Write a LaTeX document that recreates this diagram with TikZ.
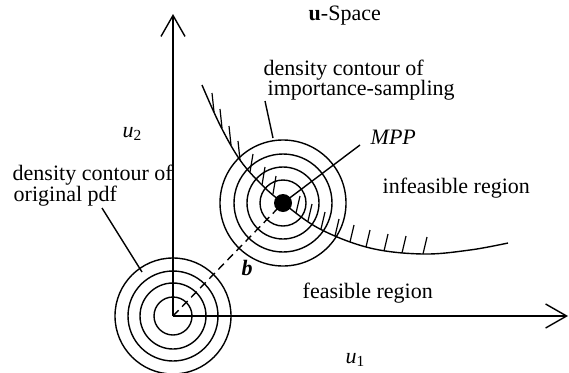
\documentclass[tikz,border=0pt]{standalone}
\usepackage{fontspec}
\setmainfont{Liberation Serif}
\usetikzlibrary{arrows.meta}

\begin{document}
\begin{tikzpicture}[
  x=1pt, y=-1pt,
  line width=1.4pt,
  lbl/.style={anchor=base west, inner sep=0pt, font=\fontsize{22}{17}\selectfont},
  axis/.style={-{Straight Barb[length=21pt, width=24pt]}},
  hatch/.style={line width=1.2pt}
]
\useasboundingbox (0,0) rectangle (569,372);

% axes
\coordinate (O) at (173,316);
\coordinate (u2end) at (173,14);
\coordinate (u1end) at (568,316);
\draw[axis] (O) -- (u2end);
\draw[axis] (O) -- (u1end);

% density contours
\foreach \r in {19,33,45,58} \draw (O) circle[radius=\r];
\node[circle, fill, inner sep=0pt, minimum size=18pt] (mpp) at (283,203) {};
\foreach \r in {23,36,49,63} \draw (mpp.center) circle[radius=\r];

% limit state and its hatching
\draw plot[smooth, tension=0.6] coordinates {(202,85) (220,125) (240,160) (262,185) (283,203)
  (320,229) (370,248) (423,254) (470,250) (508,243)};
\foreach \x/\y in {214/112, 222/128, 231/145, 240/160}
  \draw[hatch] (\x,\y) -- ++(-2,-19);
\foreach \x/\y in {250/172, 262/185, 273/194}
  \draw[hatch] (\x,\y) -- ++(3,-18);
\foreach \x/\y in {296/213, 308/221, 321/229, 335/236, 350/242, 366/247, 384/251, 402/253, 423/254}
  \draw[hatch] (\x,\y) -- ++(4,-17);

\draw[dashed, dash pattern=on 8pt off 5pt] (O) -- (mpp.center);

% labels
\node[lbl] (uspace) at (308,20) {\textbf{u}-Space};
\node[lbl] (imp1) at (263,75) {density contour of};
\node[lbl] (imp2) at (267,95) {importance-sampling};
\node[lbl] (mpplbl) at (370,144) {\textit{MPP}};
\node[lbl] (infeas) at (382,193) {infeasible region};
\node[lbl] (feas) at (302,298) {feasible region};
\node[lbl] (orig1) at (12,180) {density contour of};
\node[lbl] (orig2) at (13,201) {original pdf};
\node[lbl] (blbl) at (241,275) {\textbf{\textit{b}}};
\node[lbl] (u2lbl) at (122,137) {\textit{u}\textsubscript{2}};
\node[lbl] (u1lbl) at (345,363) {\textit{u}\textsubscript{1}};

% leaders
\coordinate (impfoot) at (273,138);
\coordinate (imphead) at (265,101);
\coordinate (mpphead) at (360,145);
\coordinate (origfoot) at (142,272);
\coordinate (orighead) at (102,208);
\draw (imphead) -- (impfoot);
\draw (mpp.center) -- (mpphead);
\draw (orighead) -- (origfoot);
\end{tikzpicture}
\end{document}
